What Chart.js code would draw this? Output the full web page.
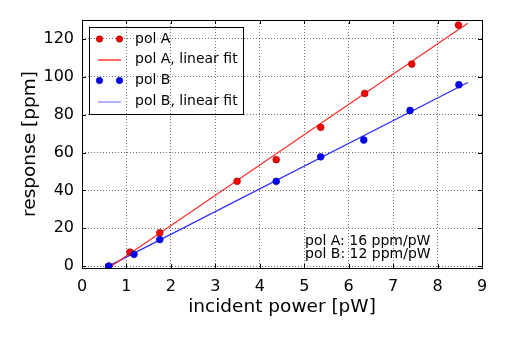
<!DOCTYPE html>
<html>
<head>
<meta charset="utf-8">
<script src="https://cdn.jsdelivr.net/npm/chart.js@4/dist/chart.umd.min.js"></script>
<style>
html,body{margin:0;padding:0;background:#fff;}
#c{display:block;}
</style>
</head>
<body>
<canvas id="c" width="507" height="338"></canvas>
<script>
// ---- data ----
const polA_x = [0.6, 1.08, 1.75, 3.49, 4.37, 5.37, 6.36, 7.42, 8.47];
const polA_y = [0, 7.4, 17.6, 44.8, 56.2, 73.3, 91.2, 106.7, 127.3];
const polB_x = [0.6, 1.17, 1.75, 4.37, 5.37, 6.34, 7.38, 8.48];
const polB_y = [0, 6.2, 14.0, 44.8, 57.7, 66.6, 82.2, 95.8];
const fitA = [16.0, -10.6];   // slope, intercept
const fitB = [12.0, -7.2];
const fitRange = [0.6, 8.68];
const xTicks = [0, 1, 2, 3, 4, 5, 6, 7, 8, 9];
const yTicks = [0, 20, 40, 60, 80, 100, 120];
const legendLabels = ['pol A', 'pol A, linear fit', 'pol B', 'pol B, linear fit'];
const noteLines = ['pol A: 16 ppm/pW', 'pol B: 12 ppm/pW'];

const pts = (xs, ys) => xs.map((x, i) => ({x: x, y: ys[i]}));
const fitPts = f => fitRange.map(x => ({x: x, y: f[0] * x + f[1]}));

const FONT = 'DejaVu Sans';

const framePlugin = {
  id: 'frame',
  afterDraw(chart) {
    const {ctx, chartArea: a, scales} = chart;
    ctx.save();
    ctx.strokeStyle = '#000';
    ctx.lineWidth = 1;
    ctx.beginPath();
    xTicks.forEach(v => {
      const px = Math.round(scales.x.getPixelForValue(v)) + 0.5;
      ctx.moveTo(px, a.bottom); ctx.lineTo(px, a.bottom - 4);
      ctx.moveTo(px, a.top); ctx.lineTo(px, a.top + 4);
    });
    yTicks.forEach(v => {
      const py = Math.round(scales.y.getPixelForValue(v)) + 0.5;
      ctx.moveTo(a.left, py); ctx.lineTo(a.left + 4, py);
      ctx.moveTo(a.right, py); ctx.lineTo(a.right - 4, py);
    });
    ctx.stroke();
    ctx.strokeRect(Math.round(a.left) + 0.5, Math.round(a.top) + 0.5,
                   Math.round(a.right - a.left), Math.round(a.bottom - a.top));

    // legend (transparent box)
    const lx = 89.5, ly = 27.5, lw = 154, lh = 87;
    ctx.strokeStyle = '#000';
    ctx.strokeRect(lx, ly, lw, lh);
    const rows = [39, 59.5, 80.5, 101.5];
    const styles = [
      {type: 'pt', color: '#ff0000', edge: '#8b0000'},
      {type: 'ln', color: '#ff0000'},
      {type: 'pt', color: '#0000ff', edge: '#00008b'},
      {type: 'ln', color: '#7f7fff'}
    ];
    ctx.font = '14px "' + FONT + '"';
    ctx.textBaseline = 'middle';
    ctx.textAlign = 'left';
    rows.forEach((ry, i) => {
      const s = styles[i];
      if (s.type === 'pt') {
        [99.5, 119.5].forEach(cx => {
          ctx.beginPath();
          ctx.arc(cx, ry, 3.2, 0, Math.PI * 2);
          ctx.fillStyle = s.color; ctx.fill();
          ctx.lineWidth = 0.6; ctx.strokeStyle = s.edge; ctx.stroke();
        });
      } else {
        ctx.beginPath();
        ctx.moveTo(98, ry + 0.5); ctx.lineTo(121, ry + 0.5);
        ctx.strokeStyle = s.color; ctx.lineWidth = 1.2; ctx.stroke();
      }
      ctx.fillStyle = '#000';
      ctx.fillText(legendLabels[i], 135, ry);
    });

    // slope annotation
    ctx.font = '14px "' + FONT + '"';
    ctx.fillStyle = '#000';
    ctx.fillText(noteLines[0], 305, 241.5);
    ctx.fillText(noteLines[1], 305, 254.5);
    ctx.restore();
  }
};

new Chart(document.getElementById('c'), {
  type: 'scatter',
  data: {
    datasets: [
      {label: legendLabels[1], data: fitPts(fitA), showLine: true, borderColor: '#ff2a2a',
       borderWidth: 1.2, pointRadius: 0, pointHoverRadius: 0, order: 3},
      {label: legendLabels[3], data: fitPts(fitB), showLine: true, borderColor: '#2a2aff',
       borderWidth: 1.2, pointRadius: 0, pointHoverRadius: 0, order: 4},
      {label: legendLabels[0], data: pts(polA_x, polA_y), backgroundColor: '#ff0000',
       borderColor: '#8b0000', borderWidth: 0.6, pointRadius: 3.4, order: 1},
      {label: legendLabels[2], data: pts(polB_x, polB_y), backgroundColor: '#0000ff',
       borderColor: '#00008b', borderWidth: 0.6, pointRadius: 3.4, order: 0}
    ]
  },
  options: {
    responsive: false,
    animation: false,
    devicePixelRatio: 1,
    layout: {padding: {left: 0, right: 25, top: 20, bottom: 0}},
    plugins: {legend: {display: false}, tooltip: {enabled: false}},
    scales: {
      x: {
        type: 'linear', min: 0, max: 9,
        afterBuildTicks: s => { s.ticks = xTicks.map(v => ({value: v})); },
        afterFit: s => { s.height = 70; },
        grid: {color: 'rgba(0,0,0,0.55)', drawTicks: false, tickLength: 0},
        border: {display: false, dash: [1, 2]},
        ticks: {color: '#000', font: {family: FONT, size: 16}, padding: 9, maxRotation: 0},
        title: {display: true, text: 'incident power [pW]', color: '#000',
                font: {family: FONT, size: 18.5}, padding: {top: 0, bottom: 20}}
      },
      y: {
        type: 'linear', min: -1, max: 130,
        afterBuildTicks: s => { s.ticks = yTicks.map(v => ({value: v})); },
        afterFit: s => { s.width = 82; },
        grid: {color: 'rgba(0,0,0,0.55)', drawTicks: false, tickLength: 0},
        border: {display: false, dash: [1, 2]},
        ticks: {color: '#000', font: {family: FONT, size: 16}, padding: 8},
        title: {display: true, text: 'response [ppm]', color: '#000',
                font: {family: FONT, size: 18.5}, padding: {top: 19, bottom: 0}}
      }
    }
  },
  plugins: [framePlugin]
});
</script>
</body>
</html>
